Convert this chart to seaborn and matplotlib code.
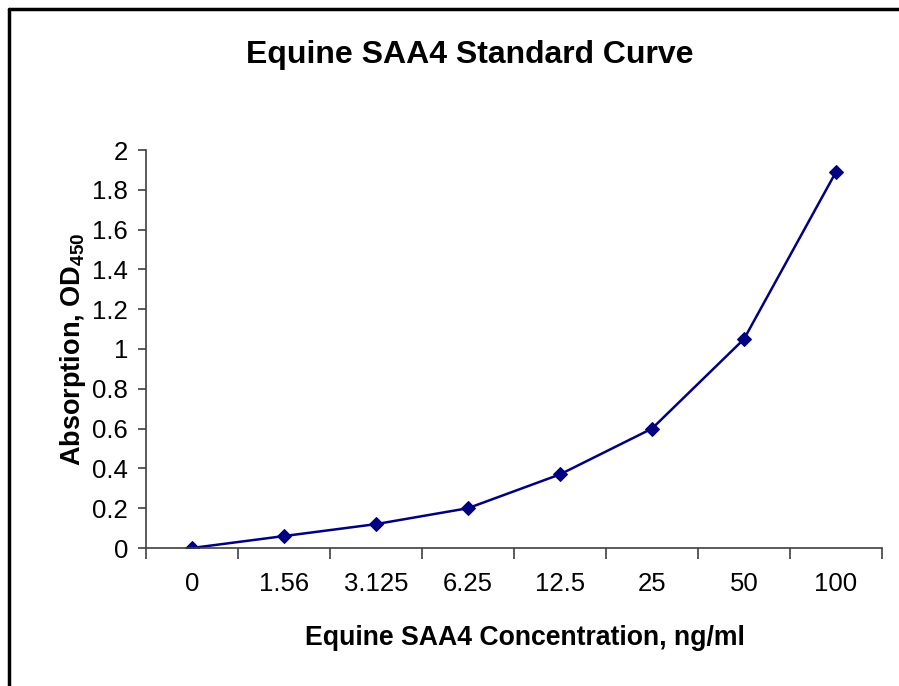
import matplotlib
matplotlib.use("Agg")
import matplotlib.pyplot as plt
import numpy as np
import pandas as pd
import seaborn as sns
from matplotlib.lines import Line2D

concentrations = ["0", "1.56", "3.125", "6.25", "12.5", "25", "50", "100"]
absorbance = [0.0, 0.06, 0.12, 0.20, 0.37, 0.60, 1.05, 1.89]
y_ticks = [0, 0.2, 0.4, 0.6, 0.8, 1.0, 1.2, 1.4, 1.6, 1.8, 2.0]

sns.set_theme(style="white")
plt.rcParams["font.family"] = ["Liberation Sans", "DejaVu Sans"]
plt.rcParams["mathtext.fontset"] = "custom"
plt.rcParams["mathtext.rm"] = "Liberation Sans"
plt.rcParams["mathtext.bf"] = "Liberation Sans:bold"
plt.rcParams["text.color"] = "black"
plt.rcParams["axes.labelcolor"] = "black"
plt.rcParams["xtick.color"] = "black"
plt.rcParams["ytick.color"] = "black"

df = pd.DataFrame({"conc": concentrations, "od": absorbance})

W, H = 899, 686
fig = plt.figure(figsize=(W / 100, H / 100), dpi=100)
ax = fig.add_axes([146 / W, 1 - 548 / H, (882 - 146) / W, (548 - 150) / H])

sns.lineplot(
    data=df, x="conc", y="od", ax=ax, color="#000080", linewidth=1.8,
    marker="D", markersize=7.5, markeredgecolor="#000080", sort=False,
)

axis_color = "#404040"
ax.set_xlim(-0.5, len(concentrations) - 0.5)
ax.set_ylim(0, 2)
ax.set_yticks(y_ticks)
ax.set_yticklabels([f"{v:g}" for v in y_ticks])
ax.set_xticks(range(len(concentrations)))
ax.set_xticklabels(concentrations)
ax.set_xticks(np.arange(-0.5, len(concentrations)), minor=True)
ax.tick_params(axis="x", which="major", length=0, pad=17, labelsize=18.5)
ax.tick_params(axis="x", which="minor", length=8, width=1.2, color=axis_color,
               direction="out", bottom=True)
ax.tick_params(axis="y", length=6, width=1.2, color=axis_color, direction="out",
               left=True, pad=7, labelsize=18.5)

for side in ["top", "right"]:
    ax.spines[side].set_visible(False)
for side in ["left", "bottom"]:
    ax.spines[side].set_color(axis_color)
    ax.spines[side].set_linewidth(1.2)

ax.set_xlabel("Equine SAA4 Concentration, ng/ml", fontsize=19.2,
              fontweight="bold", labelpad=21)
ax.xaxis.label.set_x(0.515)
ax.set_ylabel(r"Absorption, OD$_{\mathbf{450}}$", fontsize=19.5,
              fontweight="bold", labelpad=3)

fig.text(470 / W, 1 - 55 / H, "Equine SAA4 Standard Curve", fontsize=23,
         fontweight="bold", ha="center", va="center")

# chart frame (left and top edges visible)
fig.add_artist(Line2D([9 / W, 9 / W], [0, 1 - 9 / H], transform=fig.transFigure,
                      color="black", linewidth=2.5))
fig.add_artist(Line2D([9 / W, 1], [1 - 9 / H, 1 - 9 / H], transform=fig.transFigure,
                      color="black", linewidth=2.5))

fig.savefig("out.png", dpi=100)
